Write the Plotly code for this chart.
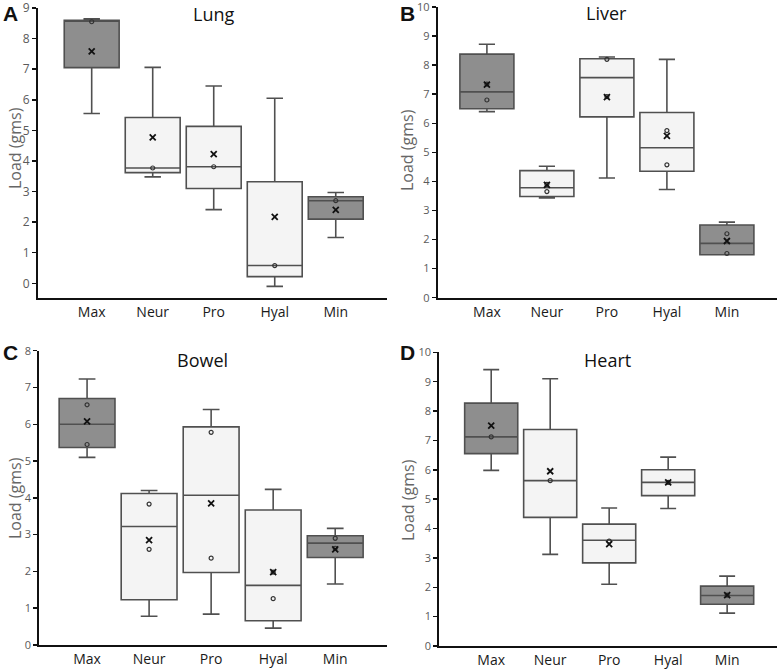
import plotly.graph_objects as go

categories = ["Max", "Neur", "Pro", "Hyal", "Min"]
positions = [0, 1, 2, 3, 4]
dark_groups = ["Max", "Min"]

# Lung
lung_low = [5.55, 3.48, 2.41, -0.10, 1.50]
lung_q1 = [7.05, 3.62, 3.10, 0.22, 2.10]
lung_med = [8.58, 3.77, 3.81, 0.58, 2.70]
lung_q3 = [8.60, 5.42, 5.13, 3.32, 2.83]
lung_high = [8.65, 7.06, 6.45, 6.05, 2.97]
lung_mean = [7.58, 4.77, 4.22, 2.17, 2.40]
lung_points = [[8.55], [3.77], [3.81], [0.58], [2.70]]

# Liver
liver_low = [6.40, 3.43, 4.12, 3.72, 1.48]
liver_q1 = [6.50, 3.48, 6.22, 4.35, 1.48]
liver_med = [7.08, 3.78, 7.57, 5.16, 1.87]
liver_q3 = [8.38, 4.37, 8.22, 6.37, 2.50]
liver_high = [8.72, 4.52, 8.28, 8.20, 2.60]
liver_mean = [7.33, 3.88, 6.90, 5.57, 1.95]
liver_points = [[6.80, 7.35], [3.65, 3.90], [8.20, 6.92], [5.75, 4.57], [2.20, 1.52]]

# Bowel
bowel_low = [5.10, 0.78, 0.84, 0.46, 1.66]
bowel_q1 = [5.37, 1.23, 1.97, 0.66, 2.38]
bowel_med = [6.00, 3.22, 4.07, 1.62, 2.77]
bowel_q3 = [6.70, 4.12, 5.93, 3.67, 2.97]
bowel_high = [7.23, 4.20, 6.40, 4.23, 3.17]
bowel_mean = [6.08, 2.85, 3.85, 1.98, 2.60]
bowel_points = [[6.53, 5.45], [3.83, 2.60], [5.78, 2.36], [1.26, 1.98], [2.90, 2.63]]

# Heart
heart_low = [5.98, 3.12, 2.10, 4.68, 1.12]
heart_q1 = [6.55, 4.38, 2.83, 5.12, 1.42]
heart_med = [7.12, 5.63, 3.60, 5.57, 1.72]
heart_q3 = [8.27, 7.37, 4.15, 6.00, 2.04]
heart_high = [9.41, 9.10, 4.70, 6.43, 2.38]
heart_mean = [7.50, 5.95, 3.47, 5.57, 1.73]
heart_points = [[7.12], [5.63], [3.57], [5.57], [1.73]]

panels = [
    dict(name="Lung", letter="A", low=lung_low, q1=lung_q1, med=lung_med, q3=lung_q3,
         high=lung_high, mean=lung_mean, pts=lung_points),
    dict(name="Liver", letter="B", low=liver_low, q1=liver_q1, med=liver_med, q3=liver_q3,
         high=liver_high, mean=liver_mean, pts=liver_points),
    dict(name="Bowel", letter="C", low=bowel_low, q1=bowel_q1, med=bowel_med, q3=bowel_q3,
         high=bowel_high, mean=bowel_mean, pts=bowel_points),
    dict(name="Heart", letter="D", low=heart_low, q1=heart_q1, med=heart_med, q3=heart_q3,
         high=heart_high, mean=heart_mean, pts=heart_points),
]

W, H = 777, 669
geom = [
    dict(px=(38, 387), py=(8, 298), xr=[-0.88, 4.84], yr=[-0.48, 9.0], ytick=list(range(0, 10)),
         tfs=12, title_xy=(213, 14), letter_xy=(10, 13), ytitle_xy=(15, 148)),
    dict(px=(437.7, 776.7), py=(7, 297.7), xr=[-0.82, 4.83], yr=[0, 10], ytick=list(range(0, 11)),
         tfs=11, title_xy=(606, 13), letter_xy=(407, 13), ytitle_xy=(407, 150)),
    dict(px=(39.3, 386.7), py=(350.7, 645), xr=[-0.77, 4.83], yr=[0, 8], ytick=list(range(0, 9)),
         tfs=11, title_xy=(202, 360), letter_xy=(10, 352), ytitle_xy=(15, 498)),
    dict(px=(439.3, 776.7), py=(352.3, 646), xr=[-0.88, 4.84], yr=[0, 10], ytick=list(range(0, 11)),
         tfs=11, title_xy=(607, 360), letter_xy=(407, 352), ytitle_xy=(408, 500)),
]

DARK = "#8e8e8e"
LIGHT = "#f4f4f4"
EDGE = "#505050"
FONT = "Open Sans"

fig = go.Figure()
layout = dict(template="none", width=W, height=H, margin=dict(l=0, r=0, t=0, b=0, autoexpand=False),
              paper_bgcolor="white", plot_bgcolor="white", showlegend=False)
annotations = []

for i, (p, g) in enumerate(zip(panels, geom)):
    sfx = "" if i == 0 else str(i + 1)
    xa, ya = "x" + sfx, "y" + sfx
    for j, cat in enumerate(categories):
        fig.add_trace(go.Box(
            x=[positions[j]], q1=[p["q1"][j]], median=[p["med"][j]], q3=[p["q3"][j]],
            lowerfence=[p["low"][j]], upperfence=[p["high"][j]],
            width=0.9, whiskerwidth=0.3, boxpoints=False,
            fillcolor=DARK if cat in dark_groups else LIGHT,
            line=dict(color=EDGE, width=1.6),
            xaxis=xa, yaxis=ya, hoverinfo="skip"))
    px_, py_ = [], []
    for j in range(len(categories)):
        for v in p["pts"][j]:
            px_.append(positions[j])
            py_.append(v)
    fig.add_trace(go.Scatter(x=px_, y=py_, mode="markers", xaxis=xa, yaxis=ya,
                             marker=dict(symbol="circle-open", size=4, color="#333",
                                         line=dict(width=1.2, color="#333")),
                             hoverinfo="skip"))
    fig.add_trace(go.Scatter(x=positions, y=p["mean"], mode="markers", xaxis=xa, yaxis=ya,
                             marker=dict(symbol="x-thin", size=6, color="#111",
                                         line=dict(width=1.8, color="#111")),
                             hoverinfo="skip"))
    x0, x1 = g["px"]
    yt, yb = g["py"]
    layout["xaxis" + sfx] = dict(
        domain=[x0 / W, x1 / W], range=g["xr"], anchor=ya, automargin=False,
        tickvals=positions, ticktext=categories, ticks="",
        tickfont=dict(family=FONT, size=14, color="#1a1a1a"),
        showline=True, linecolor="#111", linewidth=2, showgrid=False, zeroline=False,
        fixedrange=True)
    layout["yaxis" + sfx] = dict(
        domain=[1 - yb / H, 1 - yt / H], range=g["yr"], anchor=xa, automargin=False,
        tickvals=g["ytick"], ticks="outside", ticklen=4, tickwidth=1.5, tickcolor="#111",
        ticklabeloverflow="allow",
        tickfont=dict(family=FONT, size=g["tfs"], color="#5a5a5a"),
        showline=True, linecolor="#111", linewidth=2, showgrid=False, zeroline=False,
        fixedrange=True)
    tx, ty = g["title_xy"]
    annotations.append(dict(text=p["name"], x=tx / W, y=1 - ty / H, xref="paper", yref="paper",
                            showarrow=False, xanchor="center", yanchor="middle",
                            font=dict(family=FONT, size=18, color="#111")))
    lx, ly = g["letter_xy"]
    annotations.append(dict(text="<b>" + p["letter"] + "</b>", x=lx / W, y=1 - ly / H,
                            xref="paper", yref="paper", showarrow=False,
                            xanchor="center", yanchor="middle",
                            font=dict(family="Liberation Sans", size=21, color="#111")))
    yx, yy = g["ytitle_xy"]
    annotations.append(dict(text="Load (gms)", x=yx / W, y=1 - yy / H, xref="paper", yref="paper",
                            showarrow=False, xanchor="center", yanchor="middle", textangle=-90,
                            font=dict(family=FONT, size=16, color="#666")))

layout["annotations"] = annotations
fig.update_layout(**layout)
fig.write_html("out.html", config={"displayModeBar": False, "staticPlot": True},
               post_script="document.body.style.margin='0';document.body.style.overflow='hidden';")
